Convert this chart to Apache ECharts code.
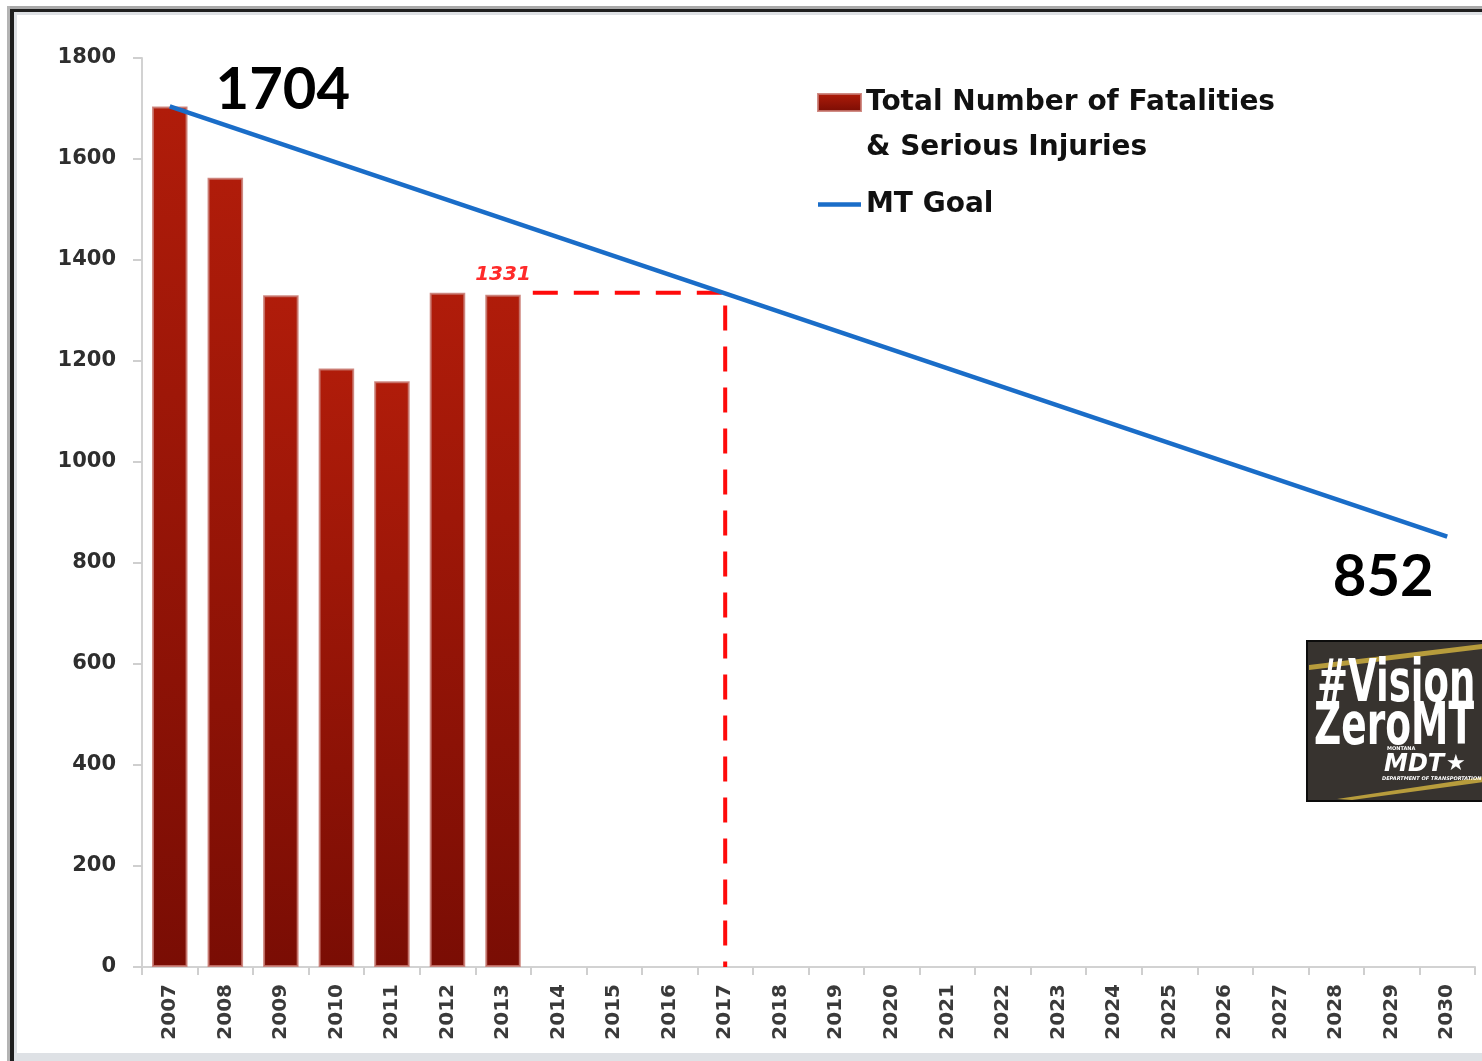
<!DOCTYPE html>
<html>
<head>
<meta charset="utf-8">
<script src="https://cdn.jsdelivr.net/npm/echarts@6/dist/echarts.min.js"></script>
<style>
html,body{margin:0;padding:0;background:#ffffff;}
#chart{width:1482px;height:1061px;}
</style>
</head>
<body>
<div id="chart"></div>
<script>
// ---- data ----
const years = ['2007','2008','2009','2010','2011','2012','2013','2014','2015','2016','2017','2018',
               '2019','2020','2021','2022','2023','2024','2025','2026','2027','2028','2029','2030'];
const fatalities = [1704, 1563, 1330, 1185, 1160, 1335, 1331];
const labeledYear = '2013';
const goalYears = ['2007', '2030'];
const goalValues = [1704, 852];
const guideFromYear = '2013';
const guideYear = '2017';
const guideValue = 1331;
const yMin = 0, yMax = 1800, yInterval = 200;
const barName = 'Total Number of Fatalities\n& Serious Injuries';
const lineName = 'MT Goal';

// build series data from the arrays
const barData = fatalities.map((v, i) => years[i] === labeledYear
  ? { value: v, label: { show: true } }
  : v);
const goalData = years.map(y => {
  const k = goalYears.indexOf(y);
  return k >= 0 ? goalValues[k] : null;
});
const guideData = [[years.indexOf(guideFromYear), years.indexOf(guideYear), guideValue]];

const chart = echarts.init(document.getElementById('chart'), null, { renderer: 'canvas' });

const axisFont = 'DejaVu Sans';
const option = {
  backgroundColor: '#ffffff',
  animation: false,
  grid: { left: 142, right: 7, top: 58, bottom: 94, containLabel: false },
  legend: {
    orient: 'vertical',
    left: 817,
    top: 35,
    padding: 0,
    itemWidth: 43,
    itemHeight: 17,
    itemGap: 12,
    selectedMode: false,
    formatter: name => name === barName ? ' \n' + name : name,
    textStyle: { fontFamily: 'DejaVu Sans', fontWeight: 'bold', fontSize: 28, color: '#111111', lineHeight: 45 },
    data: [
      { name: barName, icon: 'rect' },
      { name: lineName, icon: 'path://M0,0H46V5H0Z', itemStyle: { color: '#1a6dc8' } }
    ]
  },
  xAxis: {
    type: 'category',
    data: years,
    boundaryGap: true,
    axisLine: { lineStyle: { color: '#d2d2d2', width: 2 } },
    axisTick: { show: true, length: 8, lineStyle: { color: '#cfcfcf', width: 2 } },
    axisLabel: { rotate: 90, margin: 17, fontFamily: axisFont, fontWeight: 'bold', fontSize: 20, color: '#3a3a3a' },
    splitLine: { show: false }
  },
  yAxis: {
    type: 'value',
    min: yMin, max: yMax, interval: yInterval,
    axisLine: { show: true, lineStyle: { color: '#d2d2d2', width: 2 } },
    axisTick: { show: true, length: 9, lineStyle: { color: '#cfcfcf', width: 2 } },
    axisLabel: { margin: 26, fontFamily: axisFont, fontWeight: 'bold', fontSize: 21, color: '#2e2e2e',
                 formatter: v => String(v) },
    splitLine: { show: false }
  },
  series: [
    {
      name: 'guide',
      type: 'custom',
      z: 1,
      silent: true,
      data: guideData,
      encode: { x: [0, 1], y: 2 },
      renderItem: (params, api) => {
        const from = api.value(0), to = api.value(1), v = api.value(2);
        const half = api.size([1, 0])[0] / 2;
        const pFrom = api.coord([from, v]);
        const pTo = api.coord([to, v]);
        const pBase = api.coord([to, yMin]);
        return {
          type: 'polyline',
          shape: { points: [[pFrom[0] + half + 2, pFrom[1] - 2], [pTo[0], pTo[1] - 2], [pBase[0], pBase[1]]] },
          style: { stroke: '#ff0a0a', lineWidth: 4, fill: null, lineDash: [25, 16] }
        };
      }
    },
    {
      name: barName,
      type: 'bar',
      z: 6,
      barCategoryGap: '36%',
      data: barData,
      itemStyle: {
        color: new echarts.graphic.LinearGradient(0, 0, 0, 1, [
          { offset: 0, color: '#b01c0a' },
          { offset: 1, color: '#7a0d04' }
        ]),
        borderColor: 'rgba(200,120,112,0.85)',
        borderWidth: 2
      },
      label: {
        show: false,
        position: 'top',
        distance: 10,
        fontFamily: axisFont,
        fontStyle: 'italic',
        fontWeight: 'bold',
        fontSize: 20,
        color: '#ff2a2a'
      }
    },
    {
      name: lineName,
      type: 'line',
      z: 7,
      data: goalData,
      connectNulls: true,
      showSymbol: false,
      symbol: 'none',
      lineStyle: { color: '#1a6dc8', width: 4.5 },
      itemStyle: { color: '#1a6dc8' },
      markPoint: {
        symbol: 'circle',
        symbolSize: 1,
        itemStyle: { color: 'rgba(0,0,0,0)' },
        silent: true,
        data: [
          { coord: [goalYears[0], goalValues[0]], value: goalValues[0],
            label: { show: true, position: 'inside', offset: [113, -16], formatter: '{c}',
                     fontFamily: 'Lato', fontWeight: 'bold', fontSize: 58, color: '#000' } },
          { coord: [goalYears[1], goalValues[1]], value: goalValues[1],
            label: { show: true, position: 'inside', offset: [-64, 41], formatter: '{c}',
                     fontFamily: 'Lato', fontWeight: 'bold', fontSize: 58, color: '#000' } }
        ]
      }
    }
  ],
  graphic: [
    // outer frame
    { type: 'rect', silent: true, shape: { x: 7, y: 6, width: 1475, height: 3 }, style: { fill: '#a9a9a9' } },
    { type: 'rect', silent: true, shape: { x: 10, y: 9, width: 1472, height: 3 }, style: { fill: '#1e1e1e' } },
    { type: 'rect', silent: true, shape: { x: 14, y: 12, width: 1468, height: 3 }, style: { fill: '#dde0e4' } },
    { type: 'rect', silent: true, shape: { x: 7, y: 6, width: 3, height: 1055 }, style: { fill: '#b4b4b4' } },
    { type: 'rect', silent: true, shape: { x: 10, y: 9, width: 4, height: 1052 }, style: { fill: '#1e1e1e' } },
    { type: 'rect', silent: true, shape: { x: 14, y: 12, width: 3, height: 1049 }, style: { fill: '#dde0e4' } },
    { type: 'rect', silent: true, shape: { x: 14, y: 1053, width: 1468, height: 8 }, style: { fill: '#dee1e5' } },
    // Vision Zero logo
    {
      type: 'group', silent: true, left: 1306, top: 640,
      children: [
        { type: 'rect', shape: { x: 0, y: 0, width: 180, height: 160 }, style: { fill: '#37332f', stroke: '#0c0c0c', lineWidth: 2 } },
        { type: 'polygon', shape: { points: [[2, 24], [176, 3], [176, 8], [2, 29]] }, style: { fill: '#b79c3c' } },
        { type: 'polygon', shape: { points: [[30, 158], [176, 136], [176, 141], [45, 159]] }, style: { fill: '#b79c3c' } },
        { type: 'text', x: 10, y: 45, scaleX: 0.71, style: { text: '#Vision', fill: '#ffffff', fontFamily: '"Liberation Sans Narrow","DejaVu Sans Condensed",sans-serif', fontWeight: 'bold', fontSize: 58, verticalAlign: 'middle' } },
        { type: 'text', x: 7, y: 88, scaleX: 0.72, style: { text: 'ZeroMT', fill: '#ffffff', fontFamily: '"Liberation Sans Narrow","DejaVu Sans Condensed",sans-serif', fontWeight: 'bold', fontSize: 58, verticalAlign: 'middle' } },
        { type: 'text', x: 80, y: 108, style: { text: 'MONTANA', fill: '#ffffff', fontFamily: 'DejaVu Sans', fontWeight: 'bold', fontSize: 5, verticalAlign: 'middle' } },
        { type: 'text', x: 77, y: 124, style: { text: 'MDT', fill: '#ffffff', fontFamily: 'DejaVu Sans', fontWeight: 'bold', fontStyle: 'italic', fontSize: 24, verticalAlign: 'middle' } },
        { type: 'text', x: 139, y: 123, style: { text: '★', fill: '#ffffff', fontFamily: 'DejaVu Sans', fontSize: 22, verticalAlign: 'middle' } },
        { type: 'text', x: 75, y: 138, style: { text: 'DEPARTMENT OF TRANSPORTATION', fill: '#ffffff', fontFamily: 'DejaVu Sans', fontWeight: 'bold', fontStyle: 'italic', fontSize: 5, verticalAlign: 'middle' } }
      ]
    }
  ]
};
chart.setOption(option);
</script>
</body>
</html>
